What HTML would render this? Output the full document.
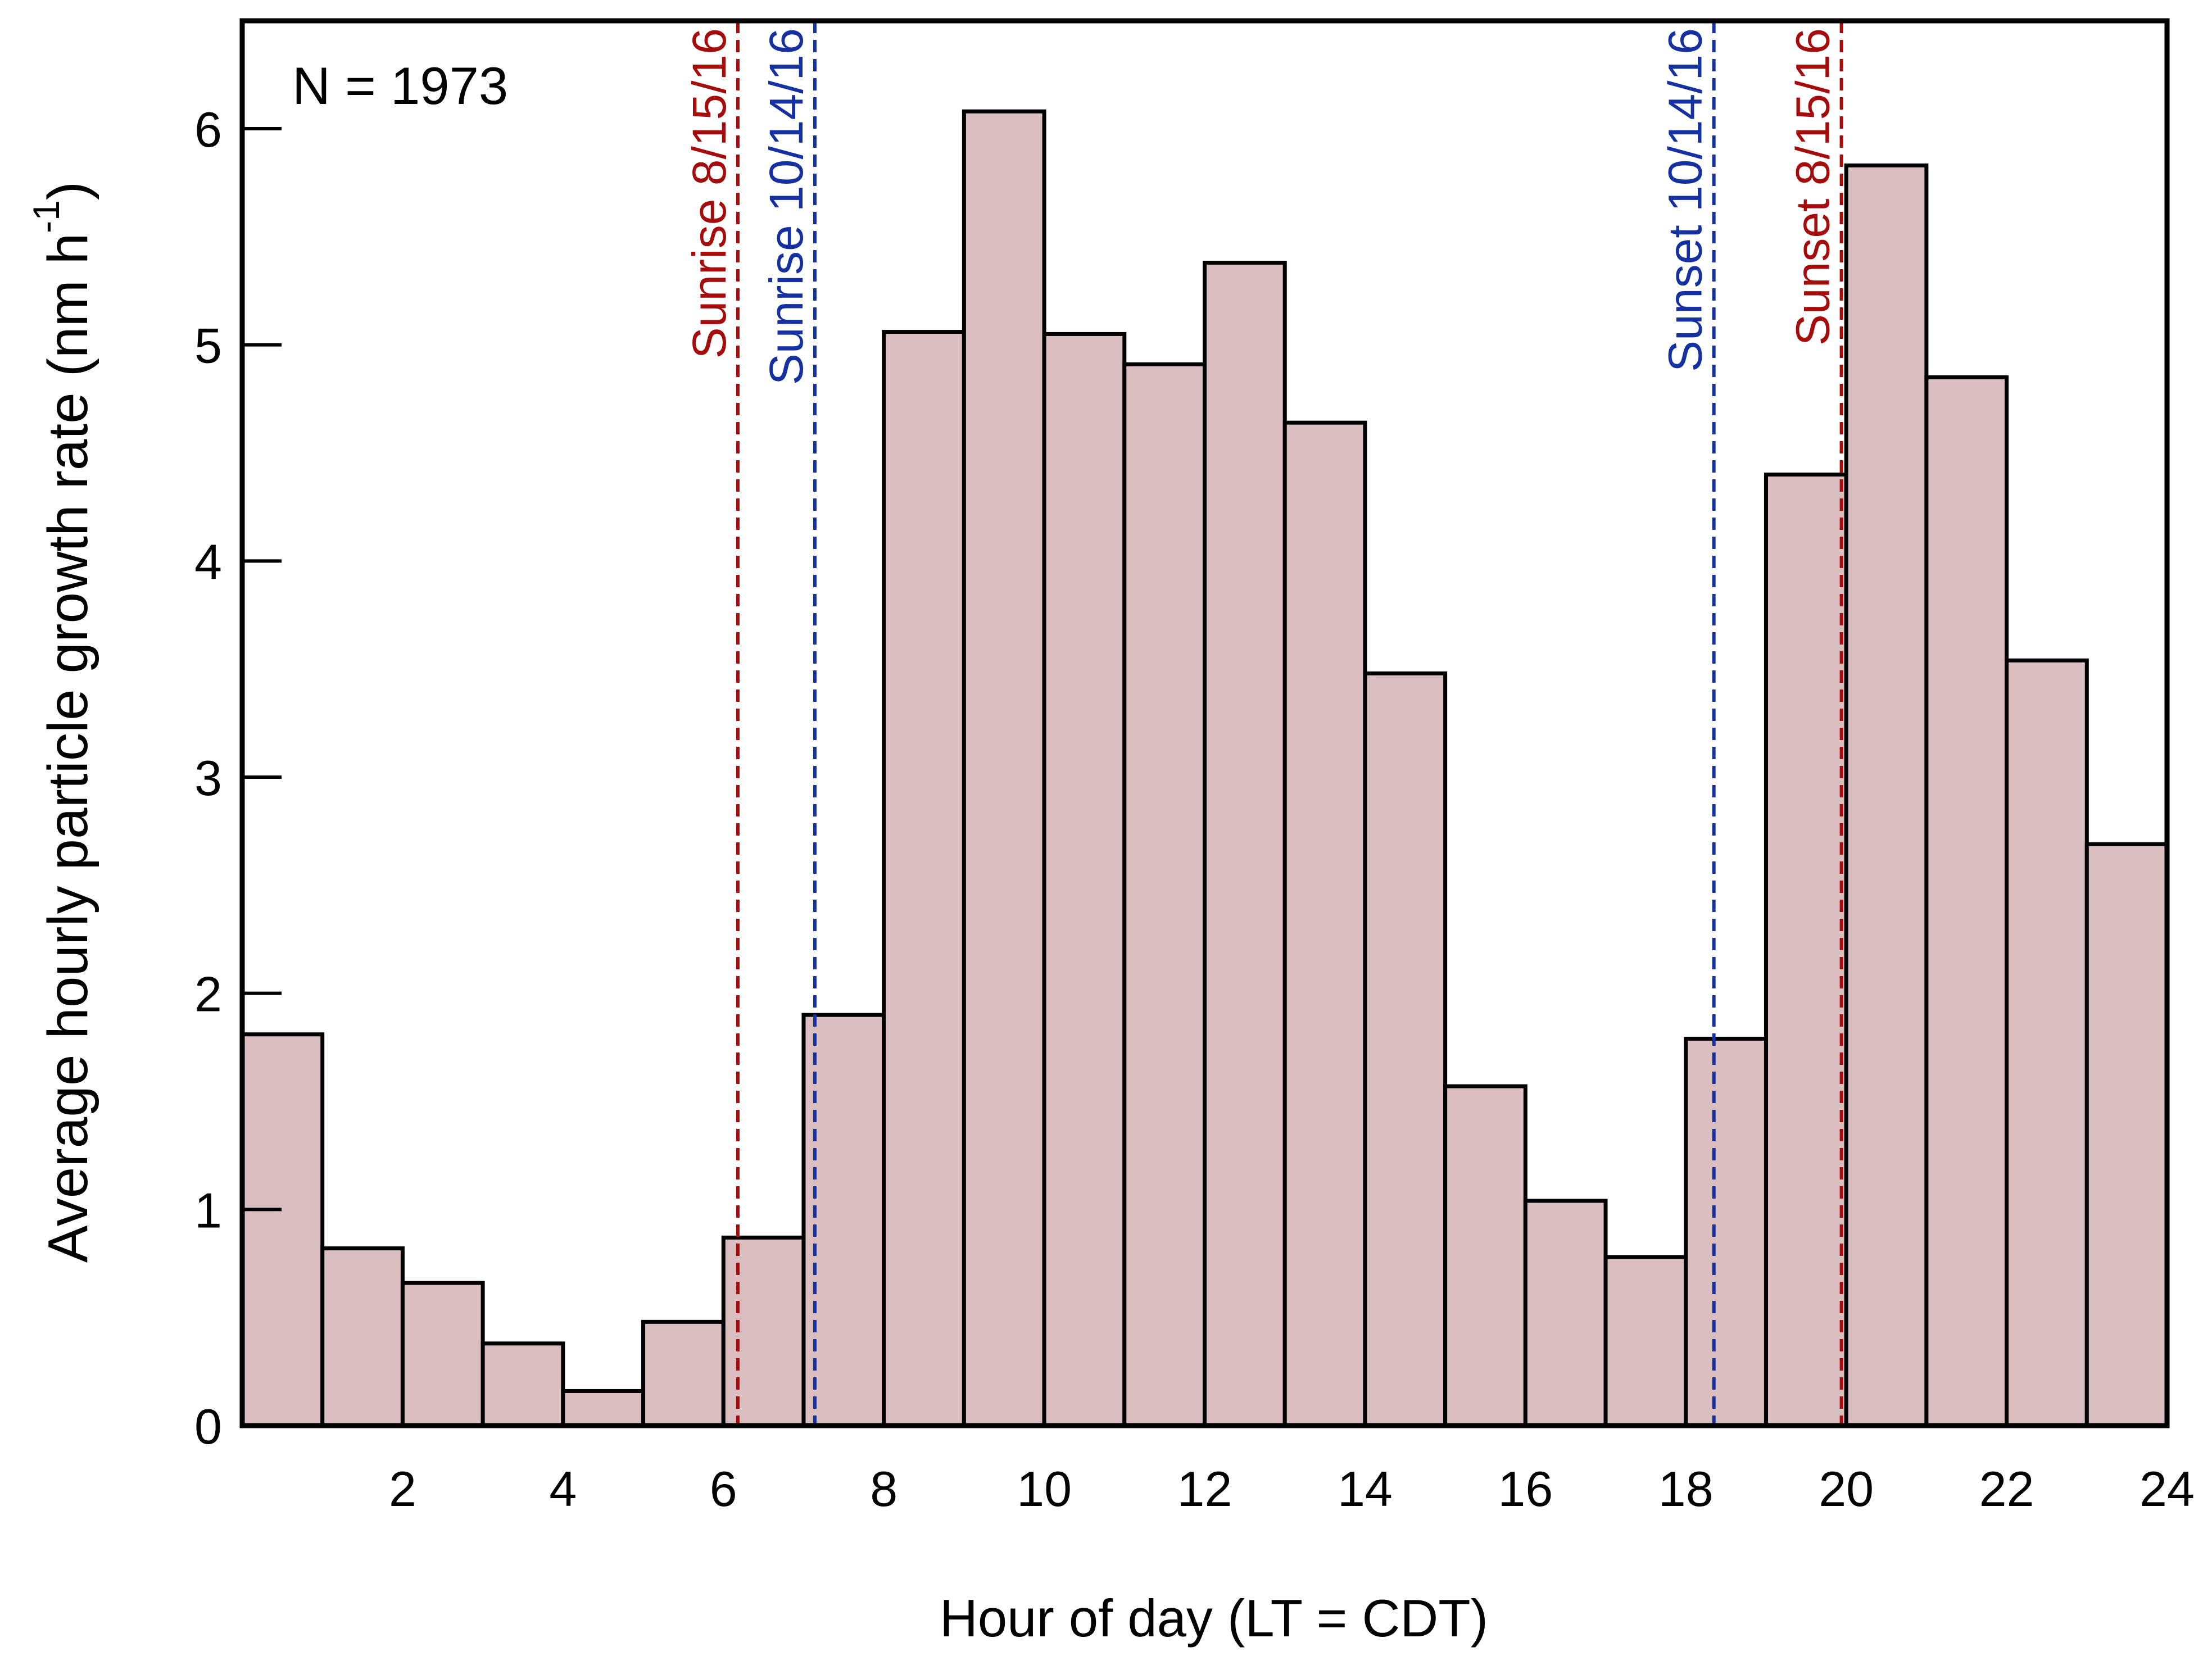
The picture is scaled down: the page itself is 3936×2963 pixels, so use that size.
<!DOCTYPE html>
<html><head><meta charset="utf-8"><style>
html,body{margin:0;padding:0;background:#fff;}
svg{display:block;font-family:"Liberation Sans",sans-serif;}
</style></head><body>
<svg id="chart" width="3936" height="2963" viewBox="0 0 3936 2963" xmlns="http://www.w3.org/2000/svg">
<g id="bars"></g>
<g id="lines"></g>
<g id="axes"></g>
<text x="520" y="185" font-size="94">N = 1973</text>
<text x="2160" y="2912" font-size="94" text-anchor="middle">Hour of day (LT = CDT)</text>
<text transform="translate(155,1285) rotate(-90)" font-size="100" text-anchor="middle">Average hourly particle growth rate (nm h<tspan font-size="66" dy="-50">-1</tspan><tspan dy="50">)</tspan></text>
</svg>
<script>
const hours = [0,1,2,3,4,5,6,7,8,9,10,11,12,13,14,15,16,17,18,19,20,21,22,23];
const rates = [1.81,0.82,0.66,0.38,0.16,0.48,0.87,1.90,5.06,6.08,5.05,4.91,5.38,4.64,3.48,1.57,1.04,0.78,1.79,4.40,5.83,4.85,3.54,2.69];
const yTicks = [0,1,2,3,4,5,6];
const xTicks = [2,4,6,8,10,12,14,16,18,20,22,24];
const sunLabels = ["Sunrise 8/15/16","Sunrise 10/14/16","Sunset 10/14/16","Sunset 8/15/16"];
const sunHours = [6.18,7.14,18.35,19.94];
const sunColors = ["#a50d0d","#1530a0","#1530a0","#a50d0d"];

const L=431,R=3856,T=37,B=2537;
const xs = h => L + h*(R-L)/24;
const ys = v => B - v*(B-229)/6;
const NS="http://www.w3.org/2000/svg";
function mk(tag,attrs,parent){const e=document.createElementNS(NS,tag);for(const k in attrs)e.setAttribute(k,attrs[k]);parent.appendChild(e);return e;}

const gb=document.getElementById('bars');
hours.forEach((h,i)=>{
  const r=mk('rect',{x:xs(h),y:ys(rates[i]),width:xs(h+1)-xs(h),height:B-ys(rates[i]),fill:'#dabec0',stroke:'#000','stroke-width':7},gb);
  
  
});

const gl=document.getElementById('lines');
sunHours.forEach((h,i)=>{
  const ln=mk('line',{x1:xs(h),x2:xs(h),y1:T,y2:B,stroke:sunColors[i],'stroke-width':6,'stroke-dasharray':'22 12'},gl);
  
  
  const t=mk('text',{transform:`translate(${xs(h)-22},50) rotate(-90)`,'font-size':84,'text-anchor':'end',fill:sunColors[i]},gl);
  t.textContent=sunLabels[i];
  
  
});

const ga=document.getElementById('axes');
yTicks.forEach(v=>{
  const tk=mk('line',{x1:L,x2:L+70,y1:ys(v),y2:ys(v),stroke:'#000','stroke-width':6},ga);
  
  
  const t=mk('text',{x:395,y:ys(v)+32,'font-size':88,'text-anchor':'end'},ga);
  t.textContent=v;
  
  
});
xTicks.forEach(v=>{
  const t=mk('text',{x:xs(v),y:2680,'font-size':88,'text-anchor':'middle'},ga);
  t.textContent=v;
  
  
});
const fr=mk('rect',{x:L,y:T,width:R-L,height:B-T,fill:'none',stroke:'#000','stroke-width':9},ga);


</script>
</body></html>
